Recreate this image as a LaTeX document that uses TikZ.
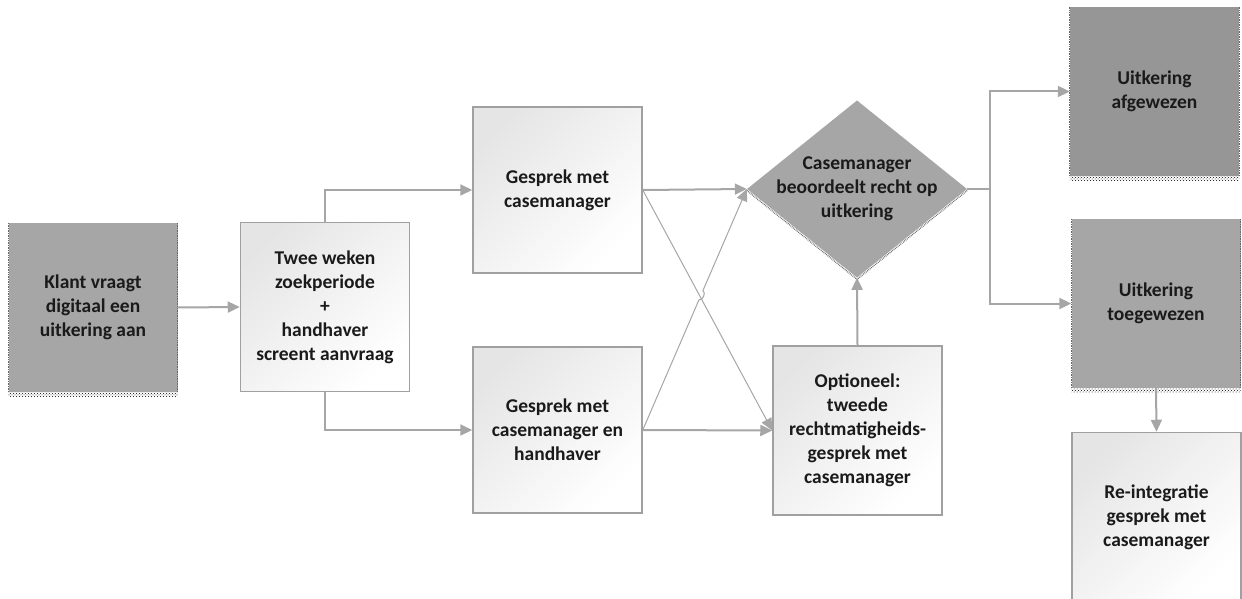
\documentclass[tikz,border=0pt]{standalone}
\usepackage{fontspec}
\setmainfont{Carlito}
\usepackage{tikz}
\usetikzlibrary{positioning,shapes.geometric,arrows.meta,calc,patterns}
\definecolor{lijngrijs}{HTML}{A6A6A6}
\definecolor{vakgrijs}{HTML}{A6A6A6}
\definecolor{vakdonker}{HTML}{969696}
\definecolor{randgrijs}{HTML}{A0A0A0}
\definecolor{tekstgrijs}{HTML}{1A1A1A}
\tikzset{
  vak/.style={rectangle, minimum width=169pt, minimum height=169pt, inner sep=2pt,
    align=center, text=tekstgrijs, font=\fontsize{19.5}{24}\selectfont\bfseries},
  licht/.style={vak, draw=randgrijs, line width=1.5pt, top color=black!10,
    bottom color=white, shading angle=45},
  donker/.style={vak, fill=vakgrijs},
  keuze/.style={diamond, fill=vakgrijs, minimum width=220pt, minimum height=170pt,
    inner sep=-12pt, align=center, text=tekstgrijs,
    font=\fontsize{19.5}{24}\selectfont\bfseries},
  pijl/.style={draw=lijngrijs, line width=2pt, -{Triangle[length=12pt,width=11pt]}},
  dunpijl/.style={draw=lijngrijs, line width=1pt, -{Triangle[length=12pt,width=11pt]}},
  lijn/.style={draw=lijngrijs, line width=2pt},
  schaduw/.style={pattern=crosshatch dots, pattern color=black},
  randstip/.style={draw=black!60, line width=0.7pt, densely dotted}
}

\begin{document}
\begin{tikzpicture}[x=1pt,y=-1pt]
\useasboundingbox (0,0) rectangle (1242,599);
\clip (0,0) rectangle (1242,599);

\node[donker] (klant) at (93,307.5) {Klant vraagt\\digitaal een\\uitkering aan};
\node[licht] (twee) at (325,307) {Twee weken\\zoekperiode\\+\\handhaver\\screent aanvraag};
\node[licht, minimum height=166pt] (gesprekA) at (557.5,190) {Gesprek met\\casemanager};
\node[licht, minimum height=166pt] (gesprekB) at (557.5,430) {Gesprek met\\casemanager en\\handhaver};
\node[keuze] (beoordeel) at (857,189) {Casemanager\\beoordeelt recht op\\uitkering};
\node[licht] (optie) at (857.5,430.5) {Optioneel:\\tweede\\rechtmatigheids-\\gesprek met\\casemanager};
\node[donker, fill=vakdonker] (afgewezen) at (1154.5,91.5) {Uitkering\\afgewezen};
\node[donker] (toegewezen) at (1156,303.5) {Uitkering\\toegewezen};
\node[licht] (reintegratie) at (1156.5,517) {Re-integratie\\gesprek met\\casemanager};

\foreach \n in {klant,afgewezen,toegewezen}{
  \fill[schaduw] (\n.south west) rectangle ([yshift=-4pt]\n.south east);
  \draw[randstip] (\n.north west) -- (\n.south west);
  \draw[randstip] (\n.north east) -- (\n.south east);
}
\draw[randstip, line width=1.4pt] ([yshift=-1.5pt]beoordeel.west) -- ([yshift=-1.5pt]beoordeel.south)
  -- ([yshift=-1.5pt]beoordeel.east);

\draw[pijl] (klant.east) -- (twee.west);
\draw[pijl] (twee.north) |- (gesprekA.west);
\draw[pijl] (twee.south) |- (gesprekB.west);
\draw[pijl] (gesprekA.east) -- (beoordeel.west);
\draw[pijl] (gesprekB.east) -- (optie.west);
\draw[dunpijl] (gesprekA.east) -- (optie.west);
\draw[dunpijl] (gesprekB.east) -- ($(gesprekB.east)!0.54!(beoordeel.west)$)
  to[bend right=90] ($(gesprekB.east)!0.578!(beoordeel.west)$) -- (beoordeel.west);
\draw[pijl] (optie.north) -- (beoordeel.south);
\coordinate (splitsing) at ($(beoordeel.east)+(23,0)$);
\draw[lijn] (beoordeel.east) -- (splitsing);
\draw[pijl] (splitsing) |- (afgewezen.west);
\draw[pijl] (splitsing) |- (toegewezen.west);
\draw[pijl] (toegewezen.south) -- (reintegratie.north);
\end{tikzpicture}
\end{document}
